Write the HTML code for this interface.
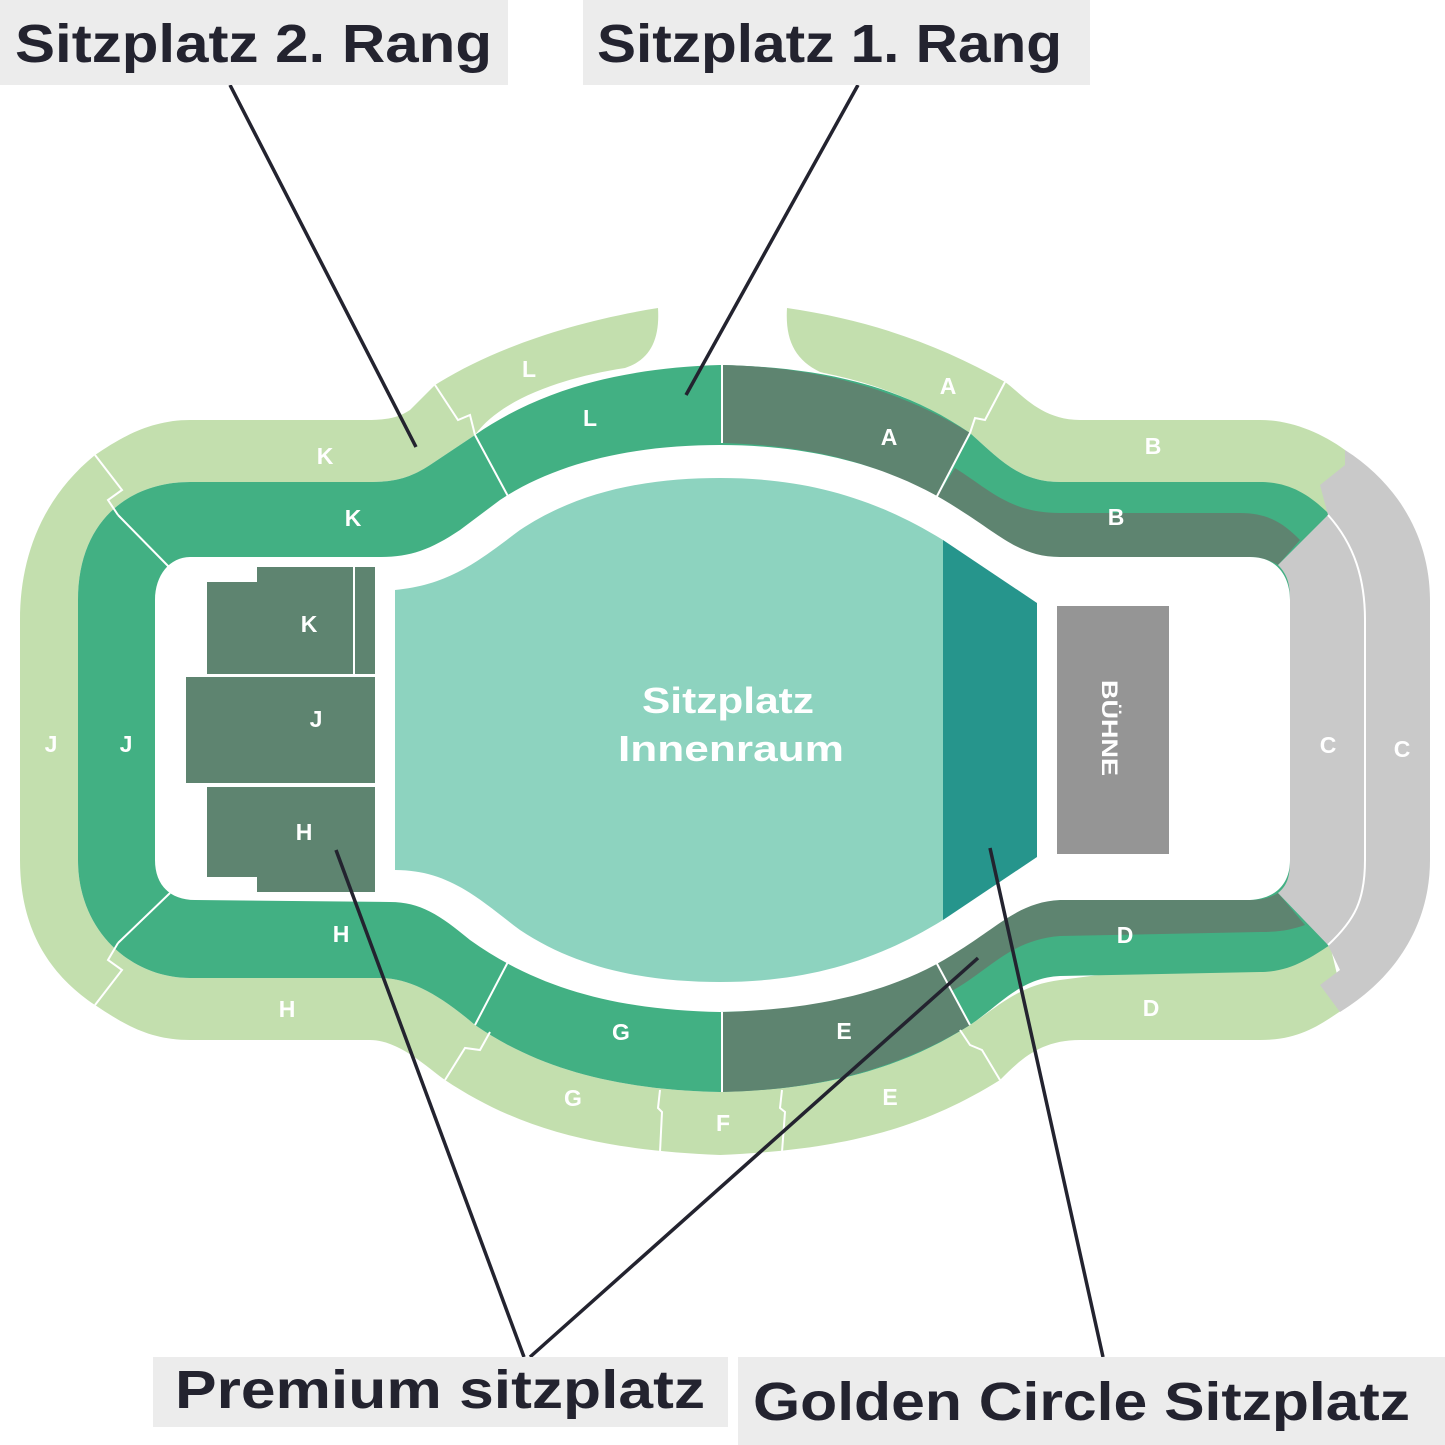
<!DOCTYPE html>
<html><head><meta charset="utf-8"><style>
html,body{margin:0;padding:0;background:#fff;}
svg{display:block;}
text{font-family:"Liberation Sans",sans-serif;font-weight:bold;}
</style></head><body>
<svg width="1445" height="1445" viewBox="0 0 1445 1445" xmlns="http://www.w3.org/2000/svg">
<path fill="#c3dfae" d="M658 308 C660 340 650 360 625 368 C560 378 500 400 475 435 L430 465 C410 478 395 482 370 482 L190 482 C130 482 78 520 78 600 L78 860 C78 930 130 978 190 978 L380 978 C410 978 440 995 475 1025 C540 1070 620 1090 720 1092 C820 1090 900 1070 970 1025 C1000 1005 1020 985 1060 980 L1330 945 L1345 1008 C1320 1025 1300 1040 1260 1040 L1080 1040 C1040 1040 1020 1060 1000 1080 C920 1130 840 1150 720 1155 C600 1150 520 1130 445 1080 C430 1070 400 1040 370 1040 L190 1040 C150 1040 125 1025 95 1005 C50 975 20 930 20 860 L20 620 C20 560 40 500 95 455 C120 438 150 420 190 420 L360 420 C380 420 395 420 410 410 L435 385 C490 350 570 322 658 308 Z"/>
<path fill="#c3dfae" d="M787 308 C870 320 940 345 1005 382 C1020 392 1040 420 1080 420 L1260 420 C1290 420 1320 432 1345 450 L1345 515 L1060 482 C1020 482 1000 460 970 433 C900 385 830 375 820 372 C795 360 785 340 787 308 Z"/>
<path fill="#42b083" d="M720 365 C620 368 540 390 475 435 L430 465 C410 478 395 482 370 482 L190 482 C130 482 78 520 78 600 L78 860 C78 930 130 978 190 978 L380 978 C410 978 440 995 475 1025 C540 1070 620 1090 720 1092 C820 1090 900 1070 970 1025 C1000 1005 1020 978 1060 976 L1260 972 C1290 972 1310 958 1330 945 L1330 515 C1310 495 1290 482 1260 482 L1060 482 C1020 482 1000 460 970 433 C900 385 820 367 720 365 Z"/>
<path fill="#5e8470" d="M722 365 C820 367 900 390 970 433 L935 500 C880 460 800 445 722 443 Z"/>
<path fill="#5e8470" d="M935 500 L955 468 C990 490 1010 513 1060 513 L1240 513 C1270 513 1285 525 1300 540 L1278 565 C1270 560 1260 557 1250 557 L1060 557 C1010 557 980 530 935 500 Z"/>
<path fill="#5e8470" d="M722 1092 C820 1090 900 1068 970 1025 L935 960 C880 995 800 1010 722 1012 Z"/>
<path fill="#5e8470" d="M950 992 C990 970 1010 940 1060 936 L1260 932 C1280 932 1290 930 1305 925 L1278 893 C1270 898 1260 900 1250 900 L1060 900 C1010 902 980 930 935 960 Z"/>
<path fill="#c9c9c9" d="M1345 450 C1400 485 1430 540 1430 600 L1430 860 C1430 920 1400 975 1340 1012 L1320 985 L1340 970 L1328 945 L1278 893 C1288 885 1290 875 1290 860 L1290 600 C1290 585 1288 575 1278 565 L1328 515 L1320 485 L1345 465 Z"/>
<path d="M1328 515 C1355 545 1365 580 1365 620 L1365 860 C1365 900 1355 920 1328 945" fill="none" stroke="#fff" stroke-width="2"/>
<path fill="#fff" d="M720 445 C640 445 560 460 500 500 L460 530 C430 550 410 557 380 557 L190 557 C170 557 155 575 155 600 L155 860 C155 885 170 900 195 900 L390 902 C420 902 440 915 470 940 C540 990 620 1010 720 1012 C820 1010 900 990 960 950 C1000 925 1020 902 1060 900 L1250 900 C1280 898 1290 880 1290 860 L1290 600 C1290 580 1280 557 1250 557 L1060 557 C1020 557 1000 535 960 510 C900 470 820 445 720 445 Z"/>
<g stroke="#fff" stroke-width="2" fill="none">
<line x1="722" y1="365" x2="722" y2="443"/><line x1="722" y1="1012" x2="722" y2="1092"/>
<line x1="475" y1="435" x2="510" y2="500"/><line x1="475" y1="1025" x2="510" y2="958"/>
<line x1="118" y1="515" x2="170" y2="568"/><line x1="118" y1="943" x2="170" y2="893"/>
<line x1="970" y1="433" x2="935" y2="500"/><line x1="970" y1="1025" x2="935" y2="960"/>
<polyline points="435,385 458,420 470,415 475,435"/><polyline points="1005,382 985,420 975,418 970,433"/>
<polyline points="95,455 122,490 108,500 118,515"/><polyline points="95,1005 122,970 108,960 118,943"/>
<polyline points="445,1080 465,1048 480,1050 490,1032"/><polyline points="1000,1080 982,1050 970,1045 960,1030"/>
<polyline points="660,1152 662,1112 658,1108 660,1090"/><polyline points="782,1152 785,1112 780,1108 782,1090"/>
</g>
<path fill="#8dd3bf" d="M395 590 C450 585 480 560 520 530 C580 490 650 478 720 478 C800 478 870 495 943 540 L943 920 C870 965 800 982 720 982 C650 982 580 970 520 930 C480 900 450 870 395 870 Z"/>
<polygon fill="#26958c" points="943,540 1037,603 1037,857 943,920"/>
<rect x="1057" y="606" width="112" height="248" fill="#959595"/>
<text x="1102" y="728" fill="#fff" font-size="22" text-anchor="middle" transform="rotate(90 1102 728)" textLength="96" lengthAdjust="spacingAndGlyphs">BÜHNE</text>
<path fill="#5e8470" d="M257 567 L375 567 L375 674 L207 674 L207 582 L257 582 Z"/>
<rect x="186" y="677" width="189" height="106" fill="#5e8470"/>
<path fill="#5e8470" d="M207 787 L375 787 L375 892 L257 892 L257 877 L207 877 Z"/>
<line x1="354" y1="567" x2="354" y2="674" stroke="#fff" stroke-width="2"/>
<g fill="#fff" font-size="23" text-anchor="middle">
<text x="529" y="377">L</text><text x="590" y="426">L</text>
<text x="948" y="394">A</text><text x="889" y="445">A</text>
<text x="1153" y="454">B</text><text x="1116" y="525">B</text>
<text x="1328" y="753">C</text><text x="1402" y="757">C</text>
<text x="1125" y="943">D</text><text x="1151" y="1016">D</text>
<text x="844" y="1039">E</text><text x="890" y="1105">E</text>
<text x="723" y="1131">F</text>
<text x="621" y="1040">G</text><text x="573" y="1106">G</text>
<text x="341" y="942">H</text><text x="287" y="1017">H</text>
<text x="126" y="752">J</text><text x="51" y="752">J</text>
<text x="353" y="526">K</text><text x="325" y="464">K</text>
<text x="309" y="632">K</text><text x="316" y="727">J</text><text x="304" y="840">H</text>
<text x="728" y="713" font-size="36" textLength="172" lengthAdjust="spacingAndGlyphs">Sitzplatz</text>
<text x="731" y="761" font-size="36" textLength="226" lengthAdjust="spacingAndGlyphs">Innenraum</text>
</g>
<g stroke="#23232f" stroke-width="3.5">
<line x1="230" y1="85" x2="416" y2="447"/><line x1="858" y1="85" x2="686" y2="395"/>
<line x1="336" y1="850" x2="524" y2="1357"/><line x1="978" y1="958" x2="530" y2="1357"/>
<line x1="990" y1="848" x2="1103" y2="1357"/>
</g>
<rect x="0" y="0" width="508" height="85" fill="#ececec"/>
<rect x="583" y="0" width="507" height="85" fill="#ececec"/>
<rect x="153" y="1357" width="575" height="70" fill="#ececec"/>
<rect x="738" y="1357" width="707" height="88" fill="#ececec"/>
<g fill="#23232f" font-size="54">
<text x="15" y="62" textLength="477" lengthAdjust="spacingAndGlyphs">Sitzplatz 2. Rang</text>
<text x="597" y="62" textLength="465" lengthAdjust="spacingAndGlyphs">Sitzplatz 1. Rang</text>
<text x="175" y="1408" textLength="530" lengthAdjust="spacingAndGlyphs">Premium sitzplatz</text>
<text x="753" y="1420" textLength="657" lengthAdjust="spacingAndGlyphs">Golden Circle Sitzplatz</text>
</g>
</svg>
</body></html>
